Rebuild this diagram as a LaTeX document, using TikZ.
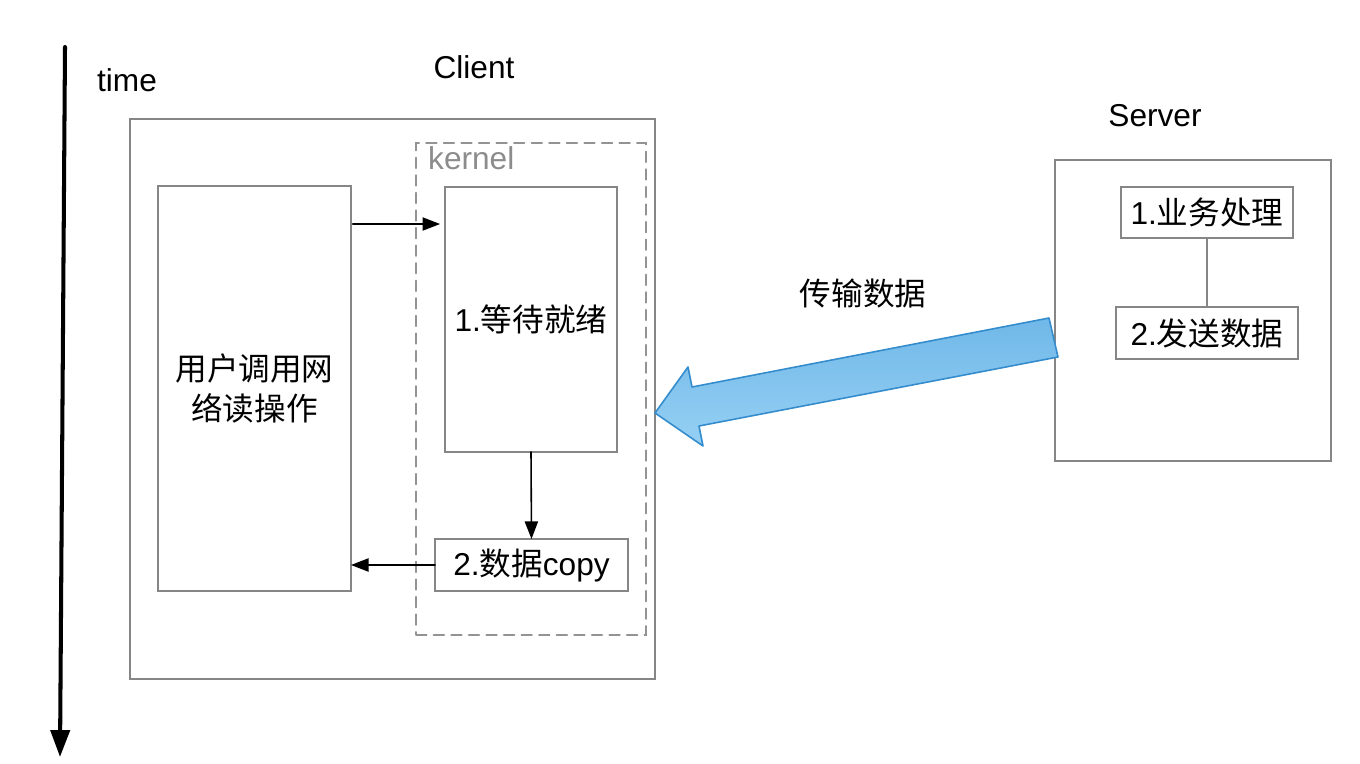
\documentclass[tikz,border=0pt]{standalone}
\usepackage{fontspec}
\setmainfont{Liberation Sans}
\newfontfamily\cjk{Noto Sans CJK SC}
\usetikzlibrary{arrows.meta,positioning}

\begin{document}
\begin{tikzpicture}[x=0.02cm,y=-0.02cm,line cap=round,
		>={Triangle[length=10pt,width=7.5pt]},
		box/.style={draw=gray!95,line width=1pt,inner sep=0pt,outer sep=0pt},
		kbox/.style={draw=gray!85,dashed,dash pattern=on 6pt off 4pt,line width=1pt,inner sep=0pt,outer sep=0pt},
		lbl/.style={font=\fontsize{18}{22.7}\selectfont,align=center},
		arr/.style={->,line width=0.9pt}]
	\useasboundingbox (0,0) rectangle (1360,764);
	% time axis
	\coordinate (t0) at (65,47);
	\coordinate (t1) at (60,757);
	\draw[line width=2.3pt,-{Triangle[length=15.3pt,width=10.8pt]}] (t0) -- (t1);
	\node[lbl] (time) at (127,80) {time};
	% client side
	\node[lbl] (clientlbl) at (474,67) {Client};
	\node[box,minimum width=10.5cm,minimum height=11.2cm] (client) at (392.5,399) {};
	\node[kbox,minimum width=4.6cm,minimum height=9.84cm] (kernel) at (531,389) {};
	\node[lbl,text=gray!90,anchor=west] (kernellbl) at (422,158) {kernel};
	\node[box,lbl,minimum width=3.86cm,minimum height=8.1cm] (user) at (254.5,388.5) {{\cjk 用户调用网}\\{\cjk 络读操作}};
	\node[box,lbl,minimum width=3.44cm,minimum height=5.3cm] (wait) at (531,319.5) {1.{\cjk 等待就绪}};
	\node[box,lbl,fill=white,minimum width=3.86cm,minimum height=1.04cm] (copy) at (531.5,565) {2.{\cjk 数据}copy};
	\coordinate (r1) at (0,224);
	\draw[arr,shorten <=1pt,shorten >=2.8pt] (user.east |- r1) -- (wait.west |- r1);
	\draw[arr] (wait.south) -- (copy.north);
	\draw[arr] (copy.west) -- (user.east |- copy.west);
	% server side
	\node[lbl] (serverlbl) at (1155,116) {Server};
	\node[box,minimum width=5.52cm,minimum height=6.02cm] (server) at (1193,310.5) {};
	\node[box,lbl,minimum width=3.44cm,minimum height=1.02cm] (biz) at (1207,212.5) {1.{\cjk 业务处理}};
	\node[box,lbl,minimum width=3.64cm,minimum height=1.04cm] (send) at (1207,333) {2.{\cjk 发送数据}};
	\draw[box] (biz.south) -- (send.north);
	% transfer
	\node[lbl] (translbl) at (863,293) {\cjk 传输数据};
	\draw[draw={rgb,255:red,52;green,140;blue,205},line width=0.9pt,line join=round,
		top color={rgb,255:red,112;green,184;blue,232},bottom color={rgb,255:red,150;green,208;blue,244}]
		(1049,318) -- (692,387) -- (688,367) -- (655,413) -- (703,446) -- (699,426) -- (1058,357) -- cycle;
\end{tikzpicture}
\end{document}
